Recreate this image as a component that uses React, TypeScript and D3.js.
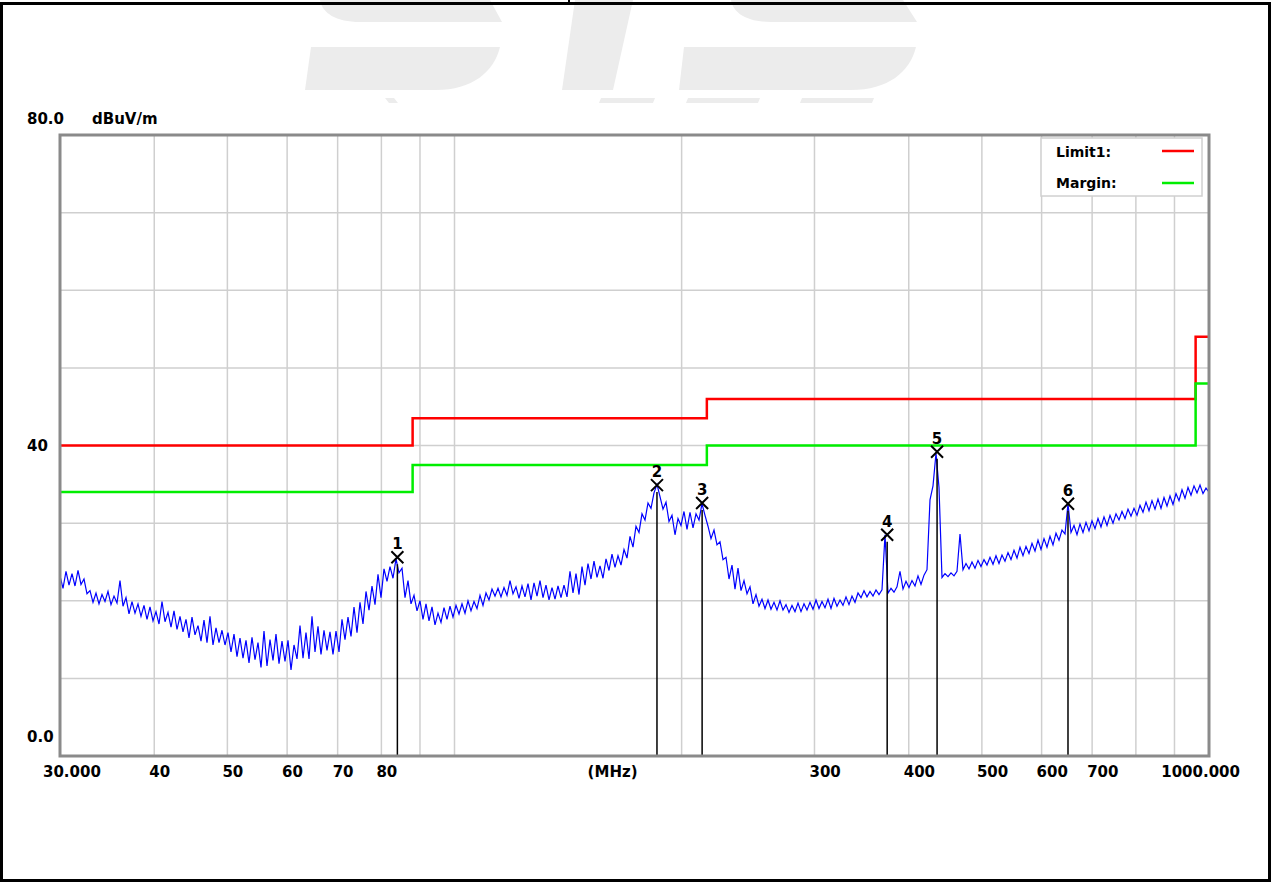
import React from "react";
import * as d3 from "d3";

// ---- Data ----
const SWEEP_START_MHZ = 30;
const SWEEP_STOP_MHZ = 1000;
// Measured level (dBuV/m) at log-spaced sweep points from 30 to 1000 MHz
const traceLevels = [
  23.2,21.6,23.8,22.0,23.5,21.9,23.9,22.1,22.8,20.9,
  21.3,19.8,21.0,19.6,20.8,19.9,21.2,19.5,20.6,19.7,
  22.6,19.3,20.4,18.3,19.9,18.4,19.6,18.0,19.4,17.6,
  19.2,17.4,18.6,17.0,19.9,17.3,18.5,16.6,18.7,16.3,
  18.0,16.0,17.6,15.2,17.9,15.6,16.8,14.8,17.5,14.6,
  18.0,14.3,16.5,14.6,16.2,14.3,15.9,13.4,15.7,12.8,
  15.2,12.6,14.9,12.0,15.3,12.4,14.6,11.4,16.1,11.6,
  15.0,12.3,15.7,11.9,14.8,12.2,14.9,11.1,14.3,12.5,
  16.8,12.6,15.9,12.5,18.0,13.4,16.7,13.1,16.2,13.6,
  16.0,13.1,16.1,13.4,17.6,15.0,17.9,15.4,19.2,15.9,
  19.8,17.0,21.2,18.8,21.9,19.5,23.4,20.4,24.1,22.5,
  24.4,22.9,25.4,23.6,24.2,20.4,22.6,19.6,20.7,18.7,
  20.0,17.6,19.6,17.4,19.2,16.9,18.4,17.2,19.1,17.6,
  19.3,17.9,19.4,18.3,19.6,18.4,20.0,18.7,19.9,19.0,
  20.7,19.4,21.0,20.1,21.5,20.6,21.6,20.5,21.7,20.7,
  22.6,20.9,21.8,20.3,21.9,20.5,22.2,20.1,22.3,20.6,
  22.6,20.4,22.0,20.1,21.7,20.2,21.9,20.4,22.0,20.5,
  23.8,21.0,23.5,20.8,24.4,22.0,24.8,22.8,25.1,23.0,
  24.5,22.9,25.4,23.9,26.0,24.3,25.8,24.6,26.6,25.5,
  28.3,26.9,29.6,28.8,31.2,30.4,32.6,31.9,33.9,35.0,
  33.4,31.8,32.7,30.2,31.0,28.5,30.6,29.7,31.5,29.2,
  31.4,29.4,31.2,30.4,32.5,31.0,29.6,28.0,29.1,27.2,
  27.6,25.3,25.6,22.8,24.6,21.5,24.2,21.3,22.6,20.9,
  21.8,19.6,20.8,19.3,20.2,19.0,20.1,18.9,19.8,18.8,
  20.0,18.8,19.5,18.5,19.4,18.6,19.7,18.6,19.6,18.8,
  19.8,18.9,20.1,19.0,19.9,19.1,20.2,19.0,20.3,19.3,
  20.1,19.4,20.5,19.5,20.6,19.8,21.0,20.4,21.3,20.5,
  21.2,20.6,21.4,20.8,21.4,28.5,21.0,21.6,21.1,21.8,
  23.8,21.5,22.5,21.7,22.6,21.9,23.2,22.1,23.3,24.0,
  33.0,34.8,39.0,34.6,23.0,23.5,23.1,23.6,23.2,23.8,
  28.6,24.0,24.8,24.1,25.0,24.2,25.2,24.4,25.3,24.6,
  25.6,24.7,25.8,24.8,25.9,25.1,26.2,25.3,26.5,25.5,
  26.9,25.8,27.0,26.1,27.4,26.4,27.8,26.6,28.0,26.9,
  28.3,27.2,28.7,27.8,29.1,28.6,32.5,28.8,29.7,28.5,
  29.9,28.8,30.1,29.0,30.3,29.3,30.6,29.5,30.8,29.7,
  31.0,30.0,31.2,30.4,31.5,30.6,31.8,30.9,31.9,31.0,
  32.3,31.4,32.7,31.6,32.9,31.8,33.1,31.9,33.3,32.2,
  33.5,32.4,33.8,32.9,34.3,33.2,34.6,33.6,34.8,33.9,
  34.9,33.8,34.5,34.0,
];

const limitFreqs = [30, 88, 216, 960, 1000];
const limitLevels = [40, 43.5, 46, 54, 54];
const marginLevels = [34, 37.5, 40, 48, 48];

const markerFreqs = [84.0, 185.5, 212.9, 374.5, 436.1, 650.3];
const markerLevels = [25.6, 34.9, 32.6, 28.5, 39.2, 32.5];

const yGridValues = [10, 20, 30, 40, 50, 60, 70];
const yLabelValues = [80, 40, 0];
const yLabelTexts = ["80.0", "40", "0.0"];

const xGridValues = [40, 50, 60, 70, 80, 90, 100, 200, 300, 400, 500, 600, 700, 800, 900];
const xLabelValues = [40, 50, 60, 70, 80, 300, 400, 500, 600, 700];
const xLabelTexts = ["40", "50", "60", "70", "80", "300", "400", "500", "600", "700"];

const legendNames = ["Limit1:", "Margin:"];
const legendColors = ["#ff0000", "#00ee00"];

// ---- Layout ----
const W = 1272;
const H = 883;
const PL = 60, PR = 1209, PT = 135, PB = 756;
const FONT = "'DejaVu Sans', Verdana, sans-serif";

export default function App() {
  const x = d3.scaleLog().domain([SWEEP_START_MHZ, SWEEP_STOP_MHZ]).range([PL, PR]);
  const y = d3.scaleLinear().domain([0, 80]).range([PB, PT]);

  const n = traceLevels.length;
  const tracePts: [number, number][] = traceLevels.map((v, i) => [
    SWEEP_START_MHZ * Math.pow(SWEEP_STOP_MHZ / SWEEP_START_MHZ, i / (n - 1)),
    v,
  ]);
  const line = d3
    .line<[number, number]>()
    .x((d) => x(d[0]))
    .y((d) => y(d[1]));
  const stepLine = d3
    .line<[number, number]>()
    .x((d) => x(d[0]))
    .y((d) => y(d[1]))
    .curve(d3.curveStepAfter);

  const limitPts = limitFreqs.map((f, i) => [f, limitLevels[i]] as [number, number]);
  const marginPts = limitFreqs.map((f, i) => [f, marginLevels[i]] as [number, number]);

  const wm = "#ececec";

  return (
    <svg
      width={W}
      height={H}
      style={{ position: "absolute", left: 0, top: 0, display: "block", background: "#fff" }}
      fontFamily={FONT}
    >
      <rect x={0} y={0} width={W} height={H} fill="#fff" />
      {/* watermark */}
      <g fill={wm}>
        <path d="M320,0 C322,13 336,22 360,22 L502,22 L490,0 Z" />
        <path d="M311,47 L500,47 C494,72 472,90 436,90 L305,90 Z" />
        <path d="M575,0 L633,0 L613,90 L562,90 Z" />
        <path d="M731,0 C733,13 747,22 771,22 L917,22 L903,0 Z" />
        <path d="M684,47 L916,47 C910,72 888,90 851,90 L679,90 Z" />
        <path d="M385,98 L394,98 L398,103 L389,103 Z" />
        <path d="M601,98 L655,98 L653,103 L599,103 Z" />
        <path d="M688,98 L760,98 L758,103 L686,103 Z" />
        <path d="M802,98 L874,98 L872,103 L800,103 Z" />
      </g>

      {/* outer border */}
      <rect x={1.5} y={3.5} width={1268} height={877} fill="none" stroke="#000" strokeWidth={3} />
      <line x1={569} x2={569} y1={0} y2={4} stroke="#000" strokeWidth={2} />

      {/* grid */}
      <g stroke="#cfcfcf" strokeWidth={1.5}>
        {yGridValues.map((v) => (
          <line key={"h" + v} x1={PL} x2={PR} y1={y(v)} y2={y(v)} />
        ))}
        {xGridValues.map((f) => (
          <line key={"v" + f} x1={x(f)} x2={x(f)} y1={PT} y2={PB} />
        ))}
      </g>

      {/* legend */}
      <rect x={1041} y={138} width={161} height={58} fill="#fff" stroke="#d0d0d0" strokeWidth={1.5} />
      {legendNames.map((nm, i) => (
        <g key={nm}>
          <text x={1056} y={157 + i * 31} fontSize={14} fontWeight="bold" fill="#000">
            {nm}
          </text>
          <line x1={1162} x2={1194} y1={151 + i * 32} y2={151 + i * 32} stroke={legendColors[i]} strokeWidth={2.5} />
        </g>
      ))}

      {/* limit and margin */}
      <path d={stepLine(limitPts) || ""} fill="none" stroke="#ff0000" strokeWidth={2.5} />
      <path d={stepLine(marginPts) || ""} fill="none" stroke="#00ee00" strokeWidth={2.5} />

      {/* trace */}
      <path d={line(tracePts) || ""} fill="none" stroke="#0000ff" strokeWidth={1.2} strokeLinejoin="miter" />

      {/* markers */}
      {markerFreqs.map((f, i) => {
        const mx = x(f);
        const my = y(markerLevels[i]);
        return (
          <g key={"m" + i}>
            <line x1={mx} x2={mx} y1={my + 7} y2={PB} stroke="#000" strokeWidth={1.5} />
            <path
              d={`M${mx - 6},${my - 6} L${mx + 6},${my + 6} M${mx + 6},${my - 6} L${mx - 6},${my + 6}`}
              stroke="#000"
              strokeWidth={2}
              fill="none"
            />
            <text x={mx} y={my - 8} textAnchor="middle" fontSize={15} fontWeight="bold" fill="#000">
              {i + 1}
            </text>
          </g>
        );
      })}

      {/* plot frame */}
      <rect x={PL} y={PT} width={PR - PL} height={PB - PT} fill="none" stroke="#8a8a8a" strokeWidth={3} />

      {/* y labels */}
      {yLabelValues.map((v, i) => (
        <text
          key={"yl" + v}
          x={27}
          y={v === 80 ? y(v) - 11 : v === 0 ? y(v) - 14 : y(v) + 5}
          fontSize={15}
          fontWeight="bold"
          fill="#000"
        >
          {yLabelTexts[i]}
        </text>
      ))}
      <text x={92} y={124} fontSize={15} fontWeight="bold" fill="#000">
        dBuV/m
      </text>

      {/* x labels */}
      <text x={43} y={777} fontSize={15} fontWeight="bold" fill="#000">
        30.000
      </text>
      {xLabelValues.map((f, i) => (
        <text key={"xl" + f} x={x(f) - 5} y={777} fontSize={15} fontWeight="bold" fill="#000">
          {xLabelTexts[i]}
        </text>
      ))}
      <text x={x(162)} y={777} textAnchor="middle" fontSize={15} fontWeight="bold" fill="#000">
        (MHz)
      </text>
      <text x={1240} y={777} textAnchor="end" fontSize={15} fontWeight="bold" fill="#000">
        1000.000
      </text>
    </svg>
  );
}
